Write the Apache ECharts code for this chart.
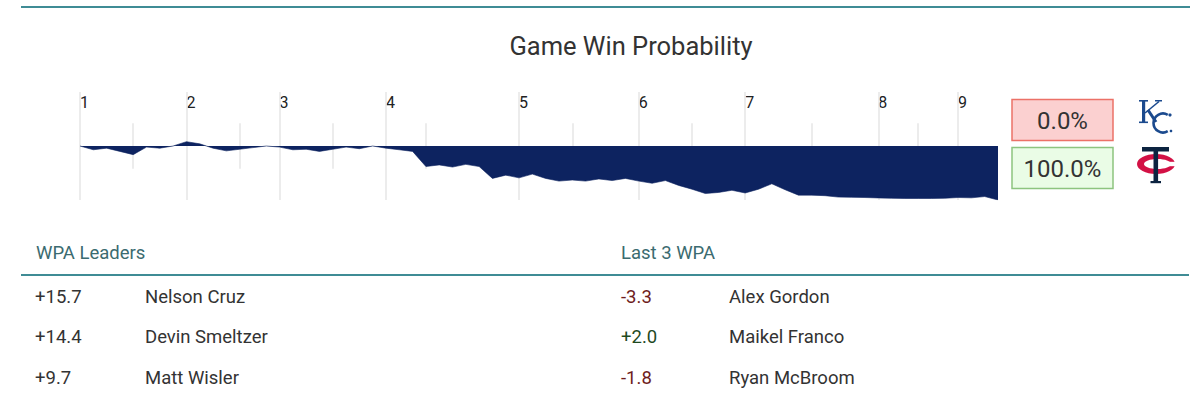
<!DOCTYPE html>
<html>
<head>
<meta charset="utf-8">
<script src="https://cdn.jsdelivr.net/npm/echarts@6/dist/echarts.min.js"></script>
<style>
  html, body { margin: 0; padding: 0; background: #fff; }
  #chart { width: 1200px; height: 396px; }
</style>
</head>
<body>
<div id="chart"></div>
<script>
// ---- data ----
const chartTitle = 'Game Win Probability';
const innings = ['1', '2', '3', '4', '5', '6', '7', '8', '9'];
const inningStarts = [0, 8, 15, 23, 33, 42, 50, 60, 66];
const midInnings = [4, 12, 19, 26, 37, 46, 55, 63];
// Twins (home) win probability after each play, %
const twinsWinProb = [
  50, 53.5, 52, 55, 58, 51, 52, 50,
  46, 48, 52, 54.5, 53, 51.5, 50,
  51, 53.5, 53, 55, 53, 51, 52.5, 50,
  52, 53.5, 55, 69, 67.5, 69.5, 67, 69, 80, 77,
  79.5, 76, 80, 82.5, 81.5, 82.5, 80.5, 82, 80,
  82.5, 84.5, 82, 86.5, 90, 94, 93, 91,
  93.5, 90, 85, 90.5, 95.5, 95.5, 96, 97.3, 97.5, 97.7,
  98.1, 98.4, 98.6, 98.6, 98.6, 98.4,
  97.7, 98, 96.8, 100
];
const leadersLabel = 'WPA Leaders';
const leaderValues = ['+15.7', '+14.4', '+9.7'];
const leaderNames = ['Nelson Cruz', 'Devin Smeltzer', 'Matt Wisler'];
const last3Label = 'Last 3 WPA';
const last3Values = ['-3.3', '+2.0', '-1.8'];
const last3Names = ['Alex Gordon', 'Maikel Franco', 'Ryan McBroom'];

// ---- styles ----
const FONT = 'Roboto, "Noto Sans", sans-serif';
const TEAL = '#3f8c95';
const NAVY = '#0d2360';
const KC_BLUE = '#1b4a8e';
const TW_NAVY = '#0c2340';
const TW_RED = '#d31145';

const lastIdx = twinsWinProb.length - 1;
const seriesData = twinsWinProb.map((v, i) => [i, v]);
const twinsFinal = twinsWinProb[lastIdx];
const kcFinal = 100 - twinsFinal;

const inningLines = inningStarts.map(x => [{ coord: [x, 0] }, { coord: [x, 100] }]);
const midLines = midInnings.map(x => [{ coord: [x, 29] }, { coord: [x, 71] }]);

const rowY = [296.5, 337, 378];
const graphics = [];
// top rule
graphics.push({ type: 'rect', shape: { x: 21, y: 6, width: 1169, height: 2 }, style: { fill: TEAL }, silent: true });
// header rule
graphics.push({ type: 'rect', shape: { x: 21, y: 274, width: 1168, height: 2 }, style: { fill: TEAL }, silent: true });
// headers
graphics.push({ type: 'text', x: 36, y: 253, style: { text: leadersLabel, fontSize: 18.5, fontFamily: FONT, fill: '#3b6b70', textVerticalAlign: 'middle' } });
graphics.push({ type: 'text', x: 621, y: 253, style: { text: last3Label, fontSize: 18.5, fontFamily: FONT, fill: '#3b6b70', textVerticalAlign: 'middle' } });
function valColor(v) { return v.charAt(0) === '-' ? '#6e1d1d' : '#1f4a1f'; }
leaderValues.forEach((v, i) => {
  graphics.push({ type: 'text', x: 35, y: rowY[i], style: { text: v, fontSize: 18.5, fontFamily: FONT, fill: '#333', textVerticalAlign: 'middle' } });
  graphics.push({ type: 'text', x: 145, y: rowY[i], style: { text: leaderNames[i], fontSize: 18.5, fontFamily: FONT, fill: '#333', textVerticalAlign: 'middle' } });
});
last3Values.forEach((v, i) => {
  graphics.push({ type: 'text', x: 621, y: rowY[i], style: { text: v, fontSize: 18.5, fontFamily: FONT, fill: valColor(v), textVerticalAlign: 'middle' } });
  graphics.push({ type: 'text', x: 729, y: rowY[i], style: { text: last3Names[i], fontSize: 18.5, fontFamily: FONT, fill: '#333', textVerticalAlign: 'middle' } });
});
// probability boxes
graphics.push({ type: 'rect', shape: { x: 1012, y: 99.5, width: 101, height: 41 }, style: { fill: '#fbd0d0', stroke: '#ec7167', lineWidth: 1.5 } });
graphics.push({ type: 'rect', shape: { x: 1012, y: 147.5, width: 101, height: 41 }, style: { fill: '#eafce6', stroke: '#8dc47f', lineWidth: 1.5 } });
graphics.push({ type: 'text', x: 1062.5, y: 120.5, style: { text: kcFinal.toFixed(1) + '%', fontSize: 24, fontFamily: FONT, fill: '#333', textAlign: 'center', textVerticalAlign: 'middle' } });
graphics.push({ type: 'text', x: 1062.5, y: 168.5, style: { text: twinsFinal.toFixed(1) + '%', fontSize: 24, fontFamily: FONT, fill: '#333', textAlign: 'center', textVerticalAlign: 'middle' } });

// ---- team marks drawn as shapes ----
// KC: serif K + C
graphics.push({ type: 'rect', shape: { x: 1142, y: 100.5, width: 3.2, height: 22 }, style: { fill: KC_BLUE } });
graphics.push({ type: 'rect', shape: { x: 1139, y: 100, width: 9, height: 1.6 }, style: { fill: KC_BLUE } });
graphics.push({ type: 'rect', shape: { x: 1139, y: 121.5, width: 9, height: 1.6 }, style: { fill: KC_BLUE } });
graphics.push({ type: 'polyline', shape: { points: [[1145, 113], [1159, 101.5]] }, style: { stroke: KC_BLUE, lineWidth: 1.6, fill: null } });
graphics.push({ type: 'rect', shape: { x: 1155, y: 100, width: 7, height: 1.5 }, style: { fill: KC_BLUE } });
graphics.push({ type: 'polyline', shape: { points: [[1148, 110], [1152, 116], [1156, 122]] }, style: { stroke: KC_BLUE, lineWidth: 3, fill: null } });
graphics.push({ type: 'arc', shape: { cx: 1163, cy: 123, r: 9.5, startAngle: -1.05, endAngle: 1.05, clockwise: false }, style: { stroke: KC_BLUE, lineWidth: 2.6, fill: null } });
graphics.push({ type: 'circle', shape: { cx: 1170, cy: 115, r: 1.6 }, style: { fill: KC_BLUE } });
graphics.push({ type: 'circle', shape: { cx: 1171, cy: 131, r: 1.3 }, style: { fill: KC_BLUE } });
// Twins: red C with navy T
graphics.push({ type: 'ellipse', shape: { cx: 1156, cy: 164, rx: 19, ry: 10 }, style: { fill: TW_RED } });
graphics.push({ type: 'ellipse', shape: { cx: 1157.5, cy: 164, rx: 13.5, ry: 5 }, style: { fill: '#fff' } });
graphics.push({ type: 'rect', shape: { x: 1166, y: 161.8, width: 12, height: 4.4 }, style: { fill: '#fff' } });
graphics.push({ type: 'rect', shape: { x: 1142, y: 147, width: 27, height: 4.5 }, style: { fill: TW_NAVY } });
graphics.push({ type: 'rect', shape: { x: 1153.5, y: 148, width: 4.6, height: 34 }, style: { fill: TW_NAVY } });
graphics.push({ type: 'rect', shape: { x: 1150.5, y: 181, width: 10.5, height: 2.2 }, style: { fill: TW_NAVY } });

const chart = echarts.init(document.getElementById('chart'), null, { renderer: 'svg' });
chart.setOption({
  animation: false,
  backgroundColor: '#fff',
  title: {
    text: chartTitle,
    left: 626,
    top: 28,
    textAlign: 'center',
    textStyle: { fontFamily: FONT, fontSize: 25.5, fontWeight: 'normal', color: '#333' }
  },
  grid: { left: 80, right: 202, top: 92, height: 108, containLabel: false },
  xAxis: {
    type: 'value',
    min: 0,
    max: lastIdx,
    position: 'top',
    axisLine: { show: false },
    axisTick: { show: false },
    splitLine: { show: false },
    axisLabel: {
      customValues: inningStarts,
      inside: true,
      margin: 2,
      align: 'left',
      verticalAlign: 'top',
      fontFamily: FONT,
      fontSize: 16,
      color: '#222',
      formatter: function (v) {
        const k = inningStarts.indexOf(v);
        return k >= 0 ? innings[k] : '';
      }
    }
  },
  yAxis: {
    type: 'value',
    min: 0,
    max: 100,
    inverse: true,
    show: false,
    splitLine: { show: false }
  },
  series: [
    {
      type: 'line',
      z: 1,
      data: [],
      silent: true,
      markLine: {
        z: 1,
        silent: true,
        symbol: 'none',
        label: { show: false },
        lineStyle: { color: '#e6e6e6', width: 1.5, type: 'solid' },
        emphasis: { disabled: true },
        data: inningLines.concat(midLines)
      }
    },
    {
      type: 'line',
      z: 3,
      data: seriesData,
      symbol: 'none',
      smooth: false,
      lineStyle: { color: NAVY, width: 0.6 },
      areaStyle: { color: NAVY, opacity: 1, origin: 50 },
      silent: true
    }
  ],
  graphic: graphics
});
</script>
</body>
</html>
